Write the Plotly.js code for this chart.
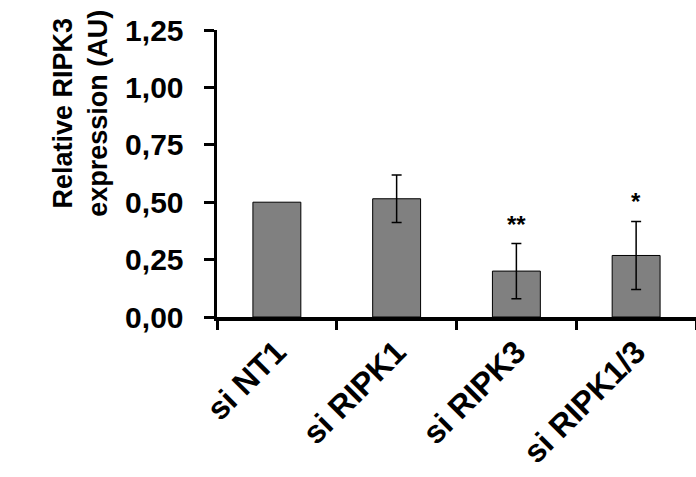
<!DOCTYPE html>
<html>
<head>
<meta charset="utf-8">
<script src="https://cdn.plot.ly/plotly-3.0.1.min.js"></script>
<style>html,body{margin:0;padding:0;background:#fff;}#chart{width:696px;height:477px;}</style>
</head>
<body>
<div id="chart"></div>
<script>
const categories = ["si NT1", "si RIPK1", "si RIPK3", "si RIPK1/3"];
const values = [0.50, 0.515, 0.20, 0.268];
const errors = [NaN, 0.103, 0.12, 0.148];
const significance = ["", "", "**", "*"];
const yTicks = [0, 0.25, 0.5, 0.75, 1.0, 1.25];
const yTitle = "Relative RIPK3<br>expression (AU)";

const font = "Liberation Sans, Arial, sans-serif";

const annotations = [];
categories.forEach((c, i) => {
  if (significance[i]) {
    annotations.push({
      x: c, y: values[i] + (errors[i] || 0), xref: 'x', yref: 'y',
      text: '<b>' + significance[i] + '</b>', showarrow: false,
      yanchor: 'bottom', yshift: 4,
      font: {family: font, size: 24, color: '#000'}
    });
  }
});
annotations.push({
  xref: 'paper', yref: 'paper', x: -0.285, y: 0.71,
  xanchor: 'center', yanchor: 'middle', textangle: -90, showarrow: false,
  text: '<b>' + yTitle + '</b>',
  font: {family: font, size: 27, color: '#000'}
});

const trace = {
  type: 'bar', x: categories, y: values, width: 0.4,
  marker: {color: '#808080', line: {color: '#000', width: 1}},
  error_y: {type: 'data', array: errors, visible: true, color: '#000', thickness: 1.5, width: 5},
  hoverinfo: 'none'
};

const layout = {
  width: 696, height: 477,
  margin: {l: 217, r: 0, t: 30, b: 160, pad: 0},
  separators: ',.',
  paper_bgcolor: '#fff', plot_bgcolor: '#fff',
  showlegend: false,
  font: {family: font, color: '#000'},
  xaxis: {
    type: 'category', showline: true, linecolor: '#000', linewidth: 3.5,
    ticks: 'outside', tickson: 'boundaries', ticklen: 9, tickwidth: 3, tickcolor: '#000',
    tickangle: -45, tickfont: {family: font, size: 32, color: '#000', weight: 'bold'},
    showgrid: false, zeroline: false, fixedrange: true
  },
  yaxis: {
    range: [0, 1.25], tickvals: yTicks, tickformat: '.2f',
    showline: true, linecolor: '#000', linewidth: 3.5,
    ticks: 'outside', ticklen: 10, tickwidth: 3, tickcolor: '#000', ticklabelstandoff: 14,
    tickfont: {family: font, size: 30, color: '#000', weight: 'bold'},
    showgrid: false, zeroline: false
  },
  annotations: annotations
};

Plotly.newPlot('chart', [trace], layout, {displayModeBar: false, staticPlot: true});
</script>
</body>
</html>
